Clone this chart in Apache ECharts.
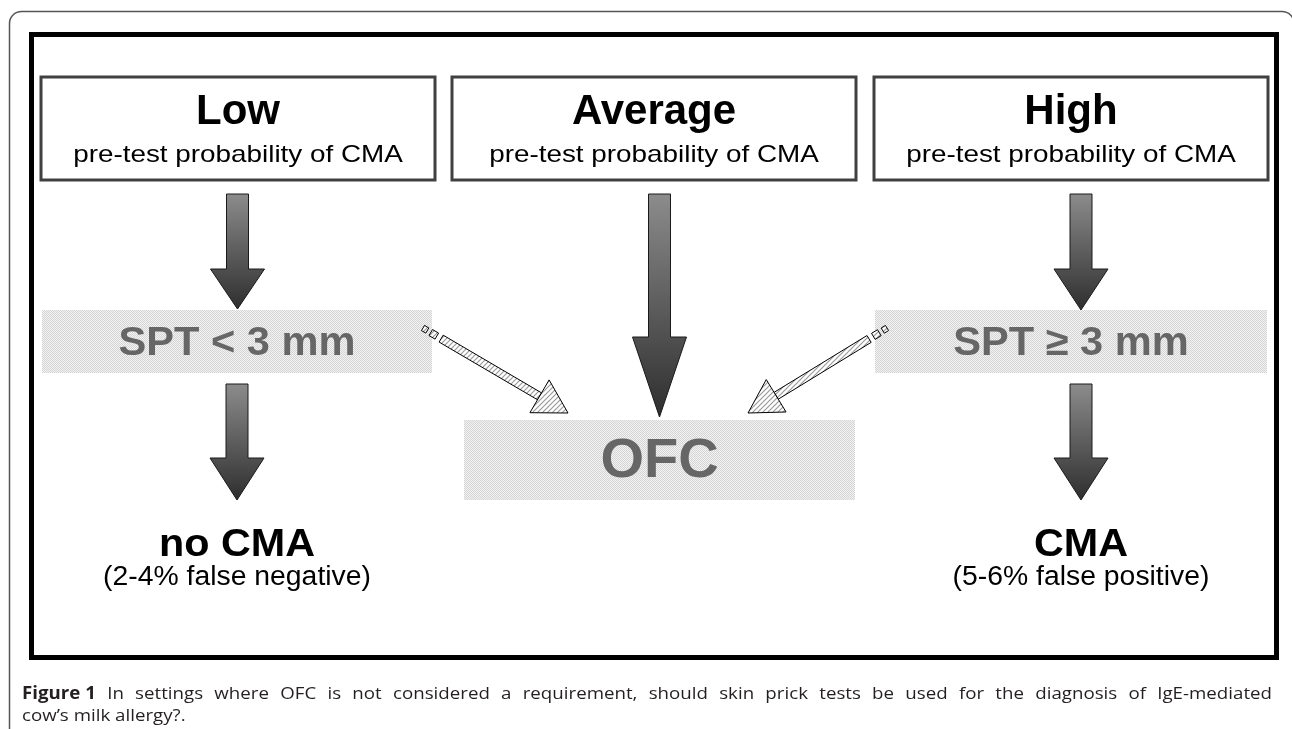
<!DOCTYPE html>
<html>
<head>
<meta charset="utf-8">
<title>SPT flowchart</title>
<script src="https://cdn.jsdelivr.net/npm/echarts@6/dist/echarts.min.js"></script>
<style>
  html, body { margin: 0; padding: 0; background: #fff; }
  #main { width: 1292px; height: 729px; }
</style>
</head>
<body>
<div id="main"></div>
<script>
// texts of the diagram
const levels = ['Low', 'Average', 'High']
const levelNote = 'pre-test probability of CMA'
const tests = ['SPT < 3 mm', 'OFC', 'SPT \u2265 3 mm']
const outcomes = ['no CMA', 'CMA']
const outcomeRates = ['(2-4% false negative)', '(5-6% false positive)']
const captionLead = 'Figure 1'
const captionLine1 = 'In settings where OFC is not considered a requirement, should skin prick tests be used for the diagnosis of IgE-mediated'
const captionLine2 = 'cow\u2019s milk allergy?.'

// layout, in page units (x right, y down) mapped through hidden value axes
const layout = {
  boxes: [[41, 77, 394, 103], [452, 77, 404, 103], [874, 77, 394, 103]],
  bands: [[42, 310, 390, 63], [464, 420, 391, 80], [875, 310, 392, 63]],
  // centre x, top, head start, tip
  arrows: [[237.5, 194, 269, 309], [659.5, 194, 337, 417], [1081, 194, 269, 310], [237, 384, 458, 500], [1081, 384, 458, 500]],
  // from x, from y, to x, to y
  hatched: [[423, 328, 568, 413], [887, 328, 748, 413]],
  outcomeX: [237, 1081],
  outcomeY: [545, 578],
  captionY: [694, 716]
}

const FONT = '"Liberation Sans", Arial, sans-serif'
const CAPFONT = '"Open Sans", "Noto Sans", sans-serif'

function stipple () {
  var c = document.createElement('canvas')
  c.width = 2
  c.height = 2
  var g = c.getContext('2d')
  g.fillStyle = '#f3f3f3'
  g.fillRect(0, 0, 2, 2)
  g.fillStyle = '#d4d4d4'
  g.fillRect(0, 0, 1, 1)
  g.fillRect(1, 1, 1, 1)
  return { image: c, repeat: 'repeat' }
}

function hatch () {
  var c = document.createElement('canvas')
  c.width = 5
  c.height = 5
  var g = c.getContext('2d')
  g.fillStyle = '#ffffff'
  g.fillRect(0, 0, 5, 5)
  g.strokeStyle = '#9a9a9a'
  g.lineWidth = 1.2
  g.beginPath()
  g.moveTo(-1, 6)
  g.lineTo(6, -1)
  g.moveTo(-1, 1)
  g.lineTo(1, -1)
  g.moveTo(4, 6)
  g.lineTo(6, 4)
  g.stroke()
  return { image: c, repeat: 'repeat' }
}

const stipplePattern = stipple()
const hatchPattern = hatch()

function pt (api, x, y) {
  return api.coord([x, y])
}

function renderFrames (params, api) {
  var a = pt(api, 9.5, 11.5)
  var b = pt(api, 1294, 800)
  var c = pt(api, 31.5, 34.5)
  var d = pt(api, 1276.5, 657.5)
  return {
    type: 'group',
    children: [
      { type: 'rect', shape: { x: a[0], y: a[1], width: b[0] - a[0], height: b[1] - a[1], r: 12 }, style: { fill: 'none', stroke: '#555', lineWidth: 1.5 } },
      { type: 'rect', shape: { x: c[0], y: c[1], width: d[0] - c[0], height: d[1] - c[1] }, style: { fill: 'none', stroke: '#000', lineWidth: 5 } }
    ]
  }
}

function renderBoxes (params, api) {
  var r = layout.boxes[params.dataIndex]
  var p = pt(api, r[0], r[1])
  var q = pt(api, r[0] + r[2], r[1] + r[3])
  var cx = (p[0] + q[0]) / 2
  return {
    type: 'group',
    children: [
      { type: 'rect', shape: { x: p[0], y: p[1], width: q[0] - p[0], height: q[1] - p[1] }, style: { fill: '#fff', stroke: '#404040', lineWidth: 3 } },
      { type: 'text', x: cx, y: p[1] + 35, style: { text: levels[params.dataIndex], font: 'bold 42px ' + FONT, fill: '#000', align: 'center', verticalAlign: 'middle' } },
      { type: 'text', x: cx, y: p[1] + 78, scaleX: 1.16, style: { text: levelNote, font: '24px ' + FONT, fill: '#000', align: 'center', verticalAlign: 'middle' } }
    ]
  }
}

function renderBands (params, api) {
  var i = params.dataIndex
  var r = layout.bands[i]
  var p = pt(api, r[0], r[1])
  var q = pt(api, r[0] + r[2], r[1] + r[3])
  var size = i === 1 ? 56 : 40
  return {
    type: 'group',
    children: [
      { type: 'rect', shape: { x: p[0], y: p[1], width: q[0] - p[0], height: q[1] - p[1] }, style: { fill: stipplePattern } },
      { type: 'text', x: (p[0] + q[0]) / 2, y: (p[1] + q[1]) / 2 + 2, scaleX: i === 1 ? 1 : 1.04, style: { text: tests[i], font: 'bold ' + size + 'px ' + FONT, fill: '#666', align: 'center', verticalAlign: 'middle' } }
    ]
  }
}

function renderArrows (params, api) {
  var a = layout.arrows[params.dataIndex]
  var sw = 11
  var hw = 27
  var pts = [
    [a[0] - sw, a[1]], [a[0] + sw, a[1]], [a[0] + sw, a[2]], [a[0] + hw, a[2]],
    [a[0], a[3]], [a[0] - hw, a[2]], [a[0] - sw, a[2]]
  ].map(function (v) { return pt(api, v[0], v[1]) })
  return {
    type: 'polygon',
    shape: { points: pts },
    style: {
      fill: new echarts.graphic.LinearGradient(0, 0, 0, 1, [
        { offset: 0, color: '#8c8c8c' },
        { offset: 1, color: '#2e2e2e' }
      ]),
      stroke: '#1a1a1a',
      lineWidth: 1
    }
  }
}

function renderHatched (params, api) {
  var h = layout.hatched[params.dataIndex]
  var from = pt(api, h[0], h[1])
  var to = pt(api, h[2], h[3])
  var dx = to[0] - from[0]
  var dy = to[1] - from[1]
  var len = Math.sqrt(dx * dx + dy * dy)
  var ux = dx / len
  var uy = dy / len
  var nx = -uy
  var ny = ux
  function at (t, s) {
    return [from[0] + ux * t + nx * s, from[1] + uy * t + ny * s]
  }
  function seg (t0, t1, w) {
    return { type: 'polygon', shape: { points: [at(t0, -w), at(t1, -w), at(t1, w), at(t0, w)] }, style: { fill: hatchPattern, stroke: '#000', lineWidth: 1 } }
  }
  var head = 33
  return {
    type: 'group',
    children: [
      seg(0, 5, 3),
      seg(9, 16, 3.5),
      seg(21, len - head, 4),
      { type: 'polygon', shape: { points: [at(len - head, -19), at(len, 0), at(len - head, 19)] }, style: { fill: hatchPattern, stroke: '#000', lineWidth: 1 } }
    ]
  }
}

function renderOutcomes (params, api) {
  var i = params.dataIndex
  var p = pt(api, layout.outcomeX[i], layout.outcomeY[0])
  var q = pt(api, layout.outcomeX[i], layout.outcomeY[1])
  return {
    type: 'group',
    children: [
      { type: 'text', x: p[0], y: p[1], scaleX: 1.06, style: { text: outcomes[i], font: 'bold 39px ' + FONT, fill: '#000', align: 'center', verticalAlign: 'middle' } },
      { type: 'text', x: q[0], y: q[1], scaleX: 1.05, style: { text: outcomeRates[i], font: '27px ' + FONT, fill: '#000', align: 'center', verticalAlign: 'middle' } }
    ]
  }
}

// justified caption: measure every word and spread the first line
var measureCtx = document.createElement('canvas').getContext('2d')
function textWidth (s, font) {
  measureCtx.font = font
  return measureCtx.measureText(s).width
}

function renderCaption (params, api) {
  var sx = 1.1
  var boldFont = 'bold 17px ' + CAPFONT
  var normFont = '17px ' + CAPFONT
  var left = pt(api, 22, 0)[0]
  var right = pt(api, 1272, 0)[0]
  var y1 = pt(api, 0, layout.captionY[0])[1]
  var y2 = pt(api, 0, layout.captionY[1])[1]
  var words = [{ t: captionLead, f: boldFont }].concat(captionLine1.split(' ').map(function (w) { return { t: w, f: normFont } }))
  var total = 0
  words.forEach(function (w) { w.w = textWidth(w.t, w.f) * sx; total += w.w })
  var gap = (right - left - total) / (words.length - 1)
  var x = left
  var children = []
  words.forEach(function (w) {
    children.push({ type: 'text', x: x, y: y1, scaleX: sx, style: { text: w.t, font: w.f, fill: '#231f20', align: 'left', verticalAlign: 'middle' } })
    x += w.w + gap
  })
  children.push({ type: 'text', x: left, y: y2, scaleX: sx, style: { text: captionLine2, font: normFont, fill: '#231f20', align: 'left', verticalAlign: 'middle' } })
  return { type: 'group', children: children }
}

var chart = echarts.init(document.getElementById('main'))
var option = {
  animation: false,
  backgroundColor: '#fff',
  grid: { left: 0, right: 0, top: 0, bottom: 0 },
  xAxis: { type: 'value', min: 0, max: 1292, show: false },
  yAxis: { type: 'value', min: 0, max: 729, inverse: true, show: false },
  series: [
    { type: 'custom', name: 'frames', silent: true, data: [[0, 0]], renderItem: renderFrames },
    { type: 'custom', name: 'bands', silent: true, data: layout.bands.map(function (r) { return [r[0], r[1]] }), renderItem: renderBands },
    { type: 'custom', name: 'boxes', silent: true, data: layout.boxes.map(function (r) { return [r[0], r[1]] }), renderItem: renderBoxes },
    { type: 'custom', name: 'arrows', silent: true, data: layout.arrows.map(function (a) { return [a[0], a[1]] }), renderItem: renderArrows },
    { type: 'custom', name: 'hatched', silent: true, data: layout.hatched.map(function (h) { return [h[0], h[1]] }), renderItem: renderHatched },
    { type: 'custom', name: 'outcomes', silent: true, data: outcomes.map(function (o, i) { return [layout.outcomeX[i], layout.outcomeY[0]] }), renderItem: renderOutcomes },
    { type: 'custom', name: 'caption', silent: true, data: [[0, 0]], renderItem: renderCaption }
  ]
}
chart.setOption(option)
</script>
</body>
</html>
